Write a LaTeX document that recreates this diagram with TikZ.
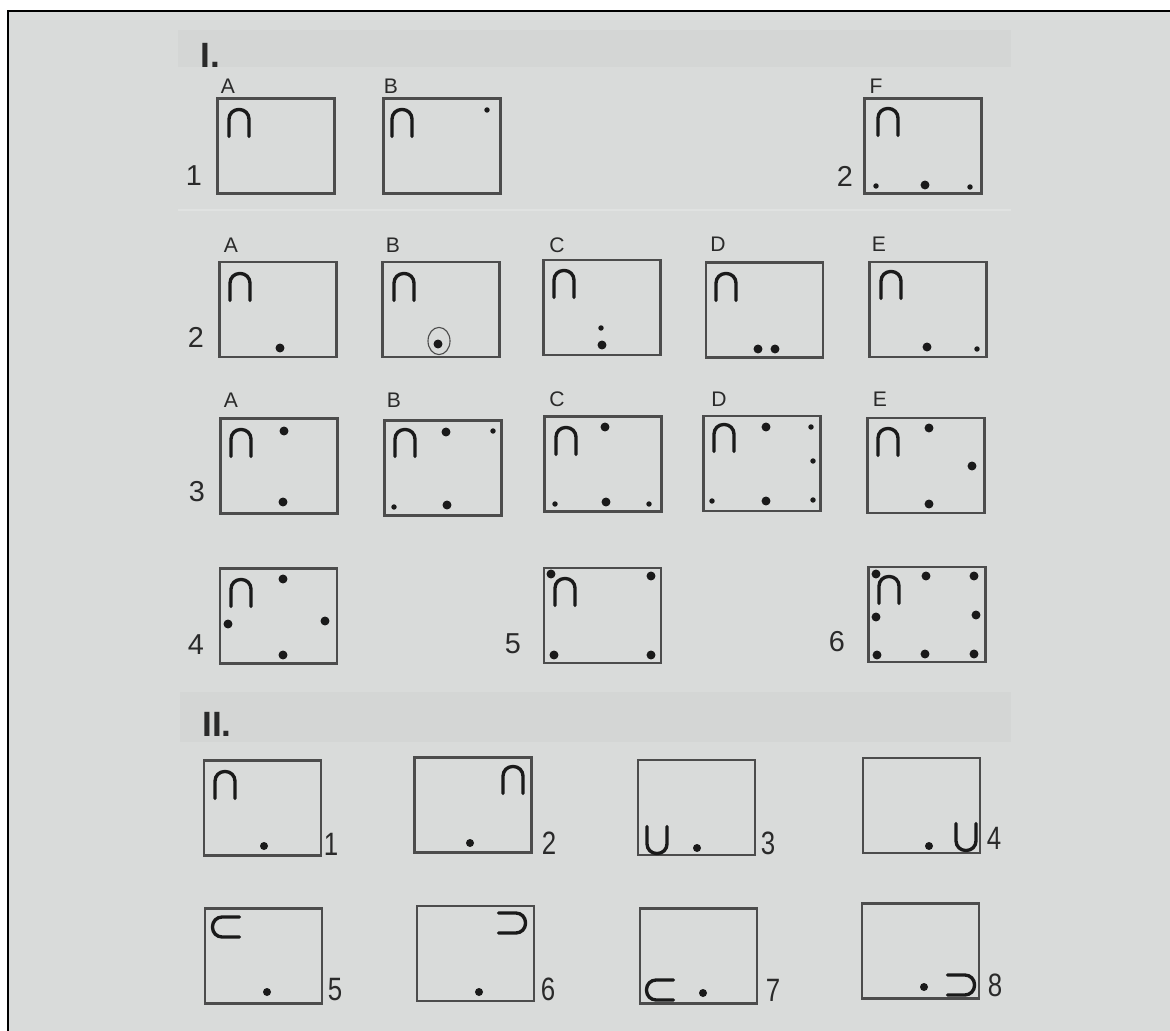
\documentclass[tikz,border=0pt]{standalone}
\usepackage{fontspec}
\setmainfont{Liberation Sans}
\definecolor{bg}{HTML}{D9DBDA}
\definecolor{band}{HTML}{D4D6D5}
\definecolor{sepc}{HTML}{E0E2E1}
\definecolor{ink}{HTML}{1A1A1A}
\definecolor{boxc}{HTML}{4C4C4C}
\definecolor{txt}{HTML}{2A2A2A}
\newcommand\bigdot[1]{\fill[ink] #1 circle[radius=1.12mm];}
\newcommand\middot[1]{\fill[ink] #1 circle[radius=1mm];}
\newcommand\smalldot[1]{\fill[ink] #1 circle[radius=0.68mm];}
\tikzset{
  cell/.style={draw=boxc, line width=1.75pt, rectangle, inner sep=0pt, outer sep=0pt,
    minimum width=29.25mm, minimum height=23.75mm},
  archline/.style={line width=2.4pt, draw=ink, rounded corners=2.4mm, line cap=round},
  arch/.pic={\draw[archline] (-10,13.5) -- (-10,-13.5) -- (10,-13.5) -- (10,13.5);},
  lbl/.style={text=txt, inner sep=0pt, font=\fontsize{15}{15}\selectfont},
  rnum/.style={text=txt, inner sep=0pt, font=\fontsize{20.5}{20.5}\selectfont},
  snum/.style={text=txt, inner sep=0pt, xscale=0.8, font=\fontsize{23}{23}\selectfont},
  sect/.style={text=txt, inner sep=0pt, font=\fontsize{25}{25}\selectfont\bfseries},
}
\begin{document}
\begin{tikzpicture}[x=0.25mm,y=-0.25mm]
\useasboundingbox (0,0) rectangle (1170,1031);
\fill[white] (0,0) rectangle (1170,1031);
\fill[bg] (8,11) rectangle (1170,1031);
\draw[black, line width=1.4pt] (8,1031) -- (8,11) -- (1170,11);
\fill[band] (178,30) rectangle (1011,67);
\fill[band] (180,692) rectangle (1011,742);
\draw[sepc, line width=0.8pt] (178,210) -- (1011,210);

% section headings
\node[sect] (s1) at (210,55) {I.};
\node[sect] (s2) at (217,724) {II.};

% ---------- Row I.1 ----------
\node[lbl] (l1a) at (228,86) {A};
\node[lbl] (l1b) at (391,86) {B};
\node[lbl] (l1f) at (876,86) {F};
\node[rnum] (n11) at (194,176) {1};
\node[rnum] (n12) at (845,176) {2};
\node[cell] (b1a) at (276,146) {};
\node[cell] (b1b) at (442,146) {};
\node[cell] (b1f) at (923,146) {};
\pic at (239,123) {arch};
\pic at (402,123) {arch};
\pic at (888,122) {arch};
\smalldot{(487,110)}
\smalldot{(876,186)}
\bigdot{(925,185)}
\smalldot{(970,187)}

% ---------- Row I.2 ----------
\node[lbl] (l2a) at (231,245) {A};
\node[lbl] (l2b) at (393,245) {B};
\node[lbl] (l2c) at (557,245) {C};
\node[lbl] (l2d) at (718,244) {D};
\node[lbl] (l2e) at (879,244) {E};
\node[rnum] (n2) at (196,337) {2};
\node[cell] (b2a) at (278,309.5) {};
\node[cell] (b2b) at (441,309.5) {};
\node[cell] (b2c) at (602,307.5) {};
\node[cell] (b2d) at (764.5,310) {};
\node[cell] (b2e) at (928,309.5) {};
\pic at (240,287) {arch};
\pic at (404,287) {arch};
\pic at (564,284) {arch};
\pic at (726,287) {arch};
\pic at (891,285) {arch};
\bigdot{(280,348)}
\bigdot{(438,344)}
\draw[boxc, line width=0.8pt] (439,341) ellipse[x radius=2.75mm, y radius=3.4mm];
\smalldot{(601,328)}
\bigdot{(602,345)}
\bigdot{(758,349)}
\bigdot{(775,349)}
\bigdot{(927,347)}
\smalldot{(977,349)}

% ---------- Row I.3 ----------
\node[lbl] (l3a) at (231,400) {A};
\node[lbl] (l3b) at (394,400) {B};
\node[lbl] (l3c) at (557,399) {C};
\node[lbl] (l3d) at (719,399) {D};
\node[lbl] (l3e) at (880,399) {E};
\node[rnum] (n3) at (197,492) {3};
\node[cell] (b3a) at (279,466) {};
\node[cell] (b3b) at (443,468) {};
\node[cell] (b3c) at (603,464) {};
\node[cell] (b3d) at (762,463.5) {};
\node[cell] (b3e) at (926,465.5) {};
\pic at (241,443) {arch};
\pic at (405,443) {arch};
\pic at (566,441) {arch};
\pic at (724,438) {arch};
\pic at (888,442) {arch};
\bigdot{(284,431)}
\bigdot{(283,502)}
\bigdot{(446,432)}
\smalldot{(493,431)}
\smalldot{(394,507)}
\bigdot{(447,505)}
\bigdot{(605,427)}
\smalldot{(555,504)}
\bigdot{(606,502)}
\smalldot{(649,504)}
\bigdot{(766,427)}
\smalldot{(811,427)}
\smalldot{(813,461)}
\smalldot{(712,501)}
\bigdot{(766,501)}
\smalldot{(813,500)}
\bigdot{(929,428)}
\bigdot{(972,466)}
\bigdot{(929,504)}

% ---------- Row I.4-6 ----------
\node[rnum] (n4) at (196,645) {4};
\node[rnum] (n5) at (513,644) {5};
\node[rnum] (n6) at (837,642) {6};
\node[cell] (b4) at (278.5,616) {};
\node[cell] (b5) at (602.5,615.5) {};
\node[cell] (b6) at (927,614.5) {};
\pic at (241,593) {arch};
\pic at (565,592) {arch};
\pic at (889,590) {arch};
\bigdot{(283,579)}
\bigdot{(228,624)}
\bigdot{(325,621)}
\bigdot{(283,655)}
\bigdot{(551,574)}
\bigdot{(651,576)}
\bigdot{(554,655)}
\bigdot{(651,655)}
\bigdot{(876,574)}
\bigdot{(926,576)}
\bigdot{(974,576)}
\bigdot{(876,617)}
\bigdot{(976,615)}
\bigdot{(877,655)}
\bigdot{(925,654)}
\bigdot{(974,654)}

% ---------- Section II ----------
\node[cell] (c1) at (262.5,808) {};
\node[cell] (c2) at (473,805) {};
\node[cell] (c3) at (696.5,807.5) {};
\node[cell] (c4) at (921.5,805.5) {};
\node[cell] (c5) at (263.5,956) {};
\node[cell] (c6) at (475.5,953.5) {};
\node[cell] (c7) at (698.5,956) {};
\node[cell] (c8) at (920.5,951) {};
\node[snum] (m1) at (331,844) {1};
\node[snum] (m2) at (549,843) {2};
\node[snum] (m3) at (768,843) {3};
\node[snum] (m4) at (994,838) {4};
\node[snum] (m5) at (335,990) {5};
\node[snum] (m6) at (548,989) {6};
\node[snum] (m7) at (773,990) {7};
\node[snum] (m8) at (995,985) {8};
\pic at (225,785) {arch};
\pic at (513,780) {arch};
\pic[rotate=180] at (657,840) {arch};
\pic[rotate=180] at (966,837) {arch};
\pic[rotate=90] at (226,927) {arch};
\pic[rotate=-90] at (512,923) {arch};
\pic[rotate=90] at (660,990) {arch};
\pic[rotate=-90] at (961,985) {arch};
\middot{(264,846)}
\middot{(470,843)}
\middot{(697,848)}
\middot{(929,846)}
\middot{(267,992)}
\middot{(479,992)}
\middot{(703,993)}
\middot{(924,987)}
\end{tikzpicture}
\end{document}
